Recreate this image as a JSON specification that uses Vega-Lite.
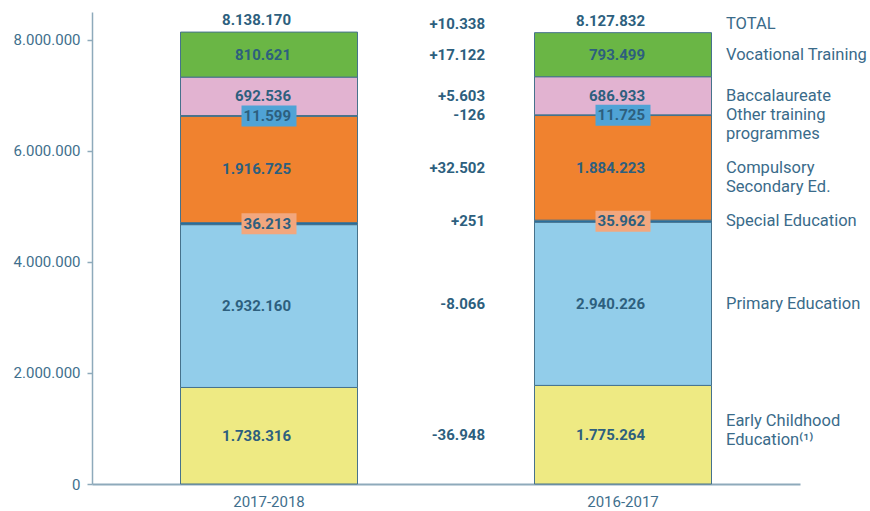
{
  "$schema": "https://vega.github.io/schema/vega-lite/v6.json",
  "width": 708,
  "height": 472,
  "autosize": {"type": "none"},
  "padding": {"left": 92, "top": 12, "right": 70, "bottom": 27},
  "background": "white",
  "config": {
    "locale": {"number": {"decimal": ",", "thousands": ".", "grouping": [3], "currency": ["", " €"], "minus": "-"}},
    "view": {"stroke": null},
    "font": "Roboto",
    "axisY": {"title": null, "grid": false, "domainColor": "#8eaabb", "domainWidth": 1.5, "tickColor": "#8eaabb", "tickSize": 5, "tickWidth": 1.5, "labelFont": "Roboto", "labelFontSize": 15, "labelColor": "#3f6f8d", "labelPadding": 7},
    "axisX": {"title": null, "grid": false, "domainColor": "#8eaabb", "domainWidth": 2, "ticks": false, "labelFont": "Roboto", "labelFontSize": 15, "labelColor": "#3f6f8d", "labelPadding": 10, "labelAngle": 0}
  },
  "datasets": {
    "enrol": [
      {"year": "2017-2018", "category": "Early Childhood Education", "rank": 1, "value": 1738316, "diff": -36948, "label": ["Early Childhood", "Education⁽¹⁾"]},
      {"year": "2017-2018", "category": "Primary Education", "rank": 2, "value": 2932160, "diff": -8066, "label": ["Primary Education"]},
      {"year": "2017-2018", "category": "Special Education", "rank": 3, "value": 36213, "diff": 251, "label": ["Special Education"]},
      {"year": "2017-2018", "category": "Compulsory Secondary Ed.", "rank": 4, "value": 1916725, "diff": 32502, "label": ["Compulsory", "Secondary Ed."]},
      {"year": "2017-2018", "category": "Other training programmes", "rank": 5, "value": 11599, "diff": -126, "label": ["Other training", "programmes"]},
      {"year": "2017-2018", "category": "Baccalaureate", "rank": 6, "value": 692536, "diff": 5603, "label": ["Baccalaureate"]},
      {"year": "2017-2018", "category": "Vocational Training", "rank": 7, "value": 810621, "diff": 17122, "label": ["Vocational Training"]},
      {"year": "2016-2017", "category": "Early Childhood Education", "rank": 1, "value": 1775264, "diff": -36948, "label": ["Early Childhood", "Education⁽¹⁾"]},
      {"year": "2016-2017", "category": "Primary Education", "rank": 2, "value": 2940226, "diff": -8066, "label": ["Primary Education"]},
      {"year": "2016-2017", "category": "Special Education", "rank": 3, "value": 35962, "diff": 251, "label": ["Special Education"]},
      {"year": "2016-2017", "category": "Compulsory Secondary Ed.", "rank": 4, "value": 1884223, "diff": 32502, "label": ["Compulsory", "Secondary Ed."]},
      {"year": "2016-2017", "category": "Other training programmes", "rank": 5, "value": 11725, "diff": -126, "label": ["Other training", "programmes"]},
      {"year": "2016-2017", "category": "Baccalaureate", "rank": 6, "value": 686933, "diff": 5603, "label": ["Baccalaureate"]},
      {"year": "2016-2017", "category": "Vocational Training", "rank": 7, "value": 793499, "diff": 17122, "label": ["Vocational Training"]}
    ],
    "totals": [
      {"year": "2017-2018", "total": 8138170},
      {"year": "2016-2017", "total": 8127832, "diff": 10338, "label": "TOTAL"}
    ]
  },
  "layer": [
    {
      "data": {"name": "enrol"},
      "mark": {"type": "bar", "stroke": "#46728c", "strokeWidth": 1},
      "encoding": {
        "x": {"field": "year", "type": "nominal", "sort": ["2017-2018", "2016-2017"], "scale": {"paddingInner": 0.5, "paddingOuter": 0.25}},
        "y": {"field": "value", "type": "quantitative", "stack": "zero", "scale": {"domain": [0, 8500000], "nice": false}, "axis": {"values": [0, 2000000, 4000000, 6000000, 8000000], "format": ",d"}},
        "color": {"field": "category", "type": "nominal", "legend": null,
          "scale": {"domain": ["Early Childhood Education", "Primary Education", "Special Education", "Compulsory Secondary Ed.", "Other training programmes", "Baccalaureate", "Vocational Training"],
                    "range": ["#eeea83", "#92cdea", "#1c6ea4", "#f0822f", "#2f6f99", "#e2b3d1", "#6ab645"]}},
        "order": {"field": "rank", "type": "quantitative"}
      }
    },
    {
      "data": {"name": "enrol"},
      "mark": {"type": "point", "shape": "M-1,-0.382L1,-0.382L1,0.382L-1,0.382Z", "size": 3025, "filled": true, "strokeWidth": 0, "opacity": 1},
      "encoding": {
        "x": {"field": "year", "type": "nominal", "sort": ["2017-2018", "2016-2017"]},
        "y": {"field": "value", "type": "quantitative", "stack": "zero", "bandPosition": 0.5},
        "detail": {"field": "category", "type": "nominal"},
        "order": {"field": "rank", "type": "quantitative"},
        "fill": {"condition": [
          {"test": "datum.category === 'Other training programmes'", "value": "#4fa3d6"},
          {"test": "datum.category === 'Special Education'", "value": "#f2a77e"}
        ], "value": "transparent"}
      }
    },
    {
      "data": {"name": "enrol"},
      "mark": {"type": "text", "align": "right", "dx": 22, "baseline": "middle", "fontWeight": "bold", "fontSize": 15, "color": "#2d5f7e"},
      "encoding": {
        "x": {"field": "year", "type": "nominal", "sort": ["2017-2018", "2016-2017"]},
        "y": {"field": "value", "type": "quantitative", "stack": "zero", "bandPosition": 0.5},
        "detail": {"field": "category", "type": "nominal"},
        "order": {"field": "rank", "type": "quantitative"},
        "text": {"field": "value", "type": "quantitative", "format": ",d"}
      }
    },
    {
      "data": {"name": "enrol"},
      "transform": [{"filter": "datum.year === '2016-2017'"}],
      "mark": {"type": "text", "align": "left", "dx": 103, "dy": -8, "baseline": "top", "fontSize": 16.5, "lineHeight": 19, "color": "#3a6b8a"},
      "encoding": {
        "x": {"field": "year", "type": "nominal", "sort": ["2017-2018", "2016-2017"]},
        "y": {"field": "value", "type": "quantitative", "stack": "zero", "bandPosition": 0.5},
        "detail": {"field": "category", "type": "nominal"},
        "order": {"field": "rank", "type": "quantitative"},
        "text": {"condition": {"test": "datum.category !== 'Early Childhood Education'", "field": "label", "type": "nominal"}, "value": ""}
      }
    },
    {
      "data": {"name": "enrol"},
      "transform": [{"filter": "datum.year === '2016-2017'"}],
      "mark": {"type": "text", "align": "left", "dx": 103, "dy": -14, "baseline": "middle", "fontSize": 16.5, "lineHeight": 19, "color": "#3a6b8a"},
      "encoding": {
        "x": {"field": "year", "type": "nominal", "sort": ["2017-2018", "2016-2017"]},
        "y": {"field": "value", "type": "quantitative", "stack": "zero", "bandPosition": 0.5},
        "detail": {"field": "category", "type": "nominal"},
        "order": {"field": "rank", "type": "quantitative"},
        "text": {"condition": {"test": "datum.category === 'Early Childhood Education'", "field": "label", "type": "nominal"}, "value": ""}
      }
    },
    {
      "data": {"name": "enrol"},
      "transform": [{"filter": "datum.year === '2016-2017'"}],
      "mark": {"type": "text", "align": "right", "dx": -138, "baseline": "middle", "fontWeight": "bold", "fontSize": 15, "color": "#2d5f7e"},
      "encoding": {
        "x": {"field": "year", "type": "nominal", "sort": ["2017-2018", "2016-2017"]},
        "y": {"field": "value", "type": "quantitative", "stack": "zero", "bandPosition": 0.5},
        "detail": {"field": "category", "type": "nominal"},
        "order": {"field": "rank", "type": "quantitative"},
        "text": {"field": "diff", "type": "quantitative", "format": "+,d"}
      }
    },
    {
      "data": {"name": "totals"},
      "mark": {"type": "text", "align": "right", "dx": 22, "dy": -12, "baseline": "middle", "fontWeight": "bold", "fontSize": 15, "color": "#2d5f7e"},
      "encoding": {
        "x": {"field": "year", "type": "nominal", "sort": ["2017-2018", "2016-2017"]},
        "y": {"field": "total", "type": "quantitative"},
        "text": {"field": "total", "type": "quantitative", "format": ",d"}
      }
    },
    {
      "data": {"name": "totals"},
      "transform": [{"filter": "isValid(datum.label)"}],
      "mark": {"type": "text", "align": "left", "dx": 103, "dy": -9, "baseline": "middle", "fontSize": 16.5, "color": "#3a6b8a"},
      "encoding": {
        "x": {"field": "year", "type": "nominal", "sort": ["2017-2018", "2016-2017"]},
        "y": {"field": "total", "type": "quantitative"},
        "text": {"field": "label", "type": "nominal"}
      }
    },
    {
      "data": {"name": "totals"},
      "transform": [{"filter": "isValid(datum.diff)"}],
      "mark": {"type": "text", "align": "right", "dx": -138, "dy": -9, "baseline": "middle", "fontWeight": "bold", "fontSize": 15, "color": "#2d5f7e"},
      "encoding": {
        "x": {"field": "year", "type": "nominal", "sort": ["2017-2018", "2016-2017"]},
        "y": {"field": "total", "type": "quantitative"},
        "text": {"field": "diff", "type": "quantitative", "format": "+,d"}
      }
    }
  ]
}
